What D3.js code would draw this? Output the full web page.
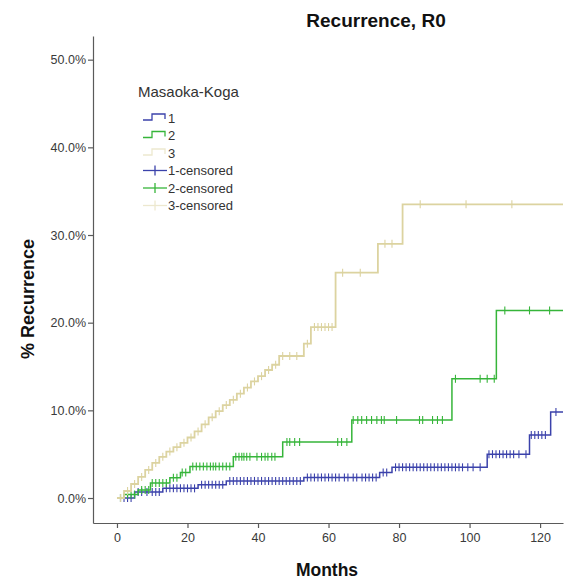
<!DOCTYPE html>
<html>
<head>
<meta charset="utf-8">
<script src="https://cdn.jsdelivr.net/npm/d3@7"></script>
<style>
  html, body { margin: 0; padding: 0; background: #fff; }
  svg { display: block; }
  text { font-family: "Liberation Sans", Arial, sans-serif; }
</style>
</head>
<body>
<svg id="chart" width="568" height="579"></svg>
<script>
// Cumulative recurrence (%) by Masaoka-Koga stage, R0 resection
const groups = ["1", "2", "3"];
const colors = ["#3b42ab", "#36b53a", "#dcd3a0"];

// Stage 1: event times (months) and cumulative recurrence (%)
const g1Times = [0, 5, 13, 23, 31, 53, 74.5, 78, 105, 117, 123];
const g1Pct   = [0, 0.7, 1.1, 1.5, 1.95, 2.35, 2.9, 3.5, 5.0, 7.2, 9.8];
const g1Censor = [1, 2, 3, 4, 6, 7, 8.5, 10, 11, 12, 14, 15, 16, 17, 18, 19, 20, 21, 22,
  24, 25, 26, 27, 28, 29, 30, 32, 33, 34, 35, 36, 37, 38, 39, 40, 41, 42, 43, 44, 45, 46,
  47, 48, 49, 50, 51, 52, 54, 55, 56, 57, 58, 59, 60, 61, 62, 63, 64.5, 65.5, 67, 68,
  69.5, 70.5, 71.5, 72.5, 73.5, 75.5, 76.5, 79, 80, 81, 82, 83, 84, 85, 86, 87, 88, 89,
  90, 91, 92, 93, 94, 95, 96, 97, 98, 99.5, 101, 103, 105.5, 106.5, 107.5, 108.5, 109.5,
  110.5, 111.5, 112.5, 114, 116, 117.5, 118.5, 119.5, 120.5, 121.5, 124.5];

// Stage 2
const g2Times = [0, 2, 6, 9.5, 15, 18, 20.7, 33, 47, 66.6, 95, 107.6];
const g2Pct   = [0, 0.4, 0.9, 1.7, 2.3, 2.9, 3.6, 4.7, 6.4, 8.9, 13.6, 21.4];
const g2Censor = [1, 3, 4, 5, 7, 8, 9, 10, 11, 12, 13, 14, 16, 17, 18.5, 19.5, 21.5, 22.5,
  23.5, 24.5, 25.5, 26.5, 27.3, 28, 29, 30, 31, 32, 33.7, 34.6, 35.4, 36, 36.8, 37.7,
  39.7, 41, 42, 42.8, 43.9, 44.8, 48.2, 49, 50.4, 51.8, 62.6, 63.7, 65.2, 67, 68.3, 69.4,
  70.8, 72.2, 73.7, 75, 75.8, 79.3, 85.8, 86.7, 89.5, 90.9, 92.3, 96, 103, 105, 107,
  110, 117, 122.7];

// Stage 3
const g3Times = [0, 2, 4, 6, 8, 10, 12, 14, 16, 18, 20, 22, 24, 26, 28, 30, 32, 34, 36,
  38, 40, 42, 44, 46, 53, 55, 62, 74, 81];
const g3Pct   = [0, 0.8, 1.6, 2.4, 3.2, 4.0, 4.7, 5.3, 5.8, 6.3, 6.9, 7.6, 8.4, 9.2, 9.9,
  10.6, 11.2, 11.9, 12.6, 13.3, 13.9, 14.6, 15.2, 16.2, 17.6, 19.5, 25.7, 29.0, 33.5];
const g3Censor = [1, 3, 5, 7, 9, 11, 13, 15, 17, 19, 21, 23, 25, 27, 29, 31, 33, 35, 37,
  39, 41, 43, 45, 47, 49, 51, 54, 56, 57, 58, 59, 60, 61, 64, 69, 76, 78, 86, 99, 112];

const yTicks = [0, 10, 20, 30, 40, 50];
const xTicks = [0, 20, 40, 60, 80, 100, 120];
const legendLabels = ["1", "2", "3", "1-censored", "2-censored", "3-censored"];

const series = [
  { times: g1Times, pct: g1Pct, censor: g1Censor },
  { times: g2Times, pct: g2Pct, censor: g2Censor },
  { times: g3Times, pct: g3Pct, censor: g3Censor }
];

const svg = d3.select("#chart");
const tMax = 126.5;
const x = d3.scaleLinear().domain([-6.8, tMax]).range([93, 563]);
const y = d3.scaleLinear().domain([-2.85, 52.7]).range([523, 36]);

// defs: soft edge for the pale stage-3 curve
const defs = svg.append("defs");
defs.append("filter").attr("id", "soft")
  .attr("x", "-5%").attr("y", "-5%").attr("width", "110%").attr("height", "110%")
  .append("feGaussianBlur").attr("stdDeviation", 0.7);

// Axes
const axisColor = "#5a5a5a";
const yAxis = svg.append("g").attr("transform", "translate(93,0)")
  .call(d3.axisLeft(y).tickValues(yTicks).tickSize(5).tickSizeOuter(0)
    .tickFormat(d => d.toFixed(1) + "%"));
const xAxis = svg.append("g").attr("transform", "translate(0,523)")
  .call(d3.axisBottom(x).tickValues(xTicks).tickSize(5).tickSizeOuter(0));
[yAxis, xAxis].forEach(a => {
  a.select(".domain").attr("stroke", axisColor).attr("stroke-width", 1.2);
  a.selectAll(".tick line").attr("stroke", axisColor).attr("stroke-width", 1.2);
  a.selectAll(".tick text").attr("fill", "#3a3a3a")
    .style("font-family", "'Liberation Sans', Arial, sans-serif").style("font-size", "12.5px");
});
yAxis.selectAll(".tick text").attr("x", -7);
xAxis.selectAll(".tick text").attr("y", 10);

// Step curves and censor marks
const line = d3.line().x(d => x(d[0])).y(d => y(d[1])).curve(d3.curveStepAfter);
const bis = d3.bisector(d => d).right;

series.forEach((s, i) => {
  const pts = s.times.map((t, k) => [t, s.pct[k]]);
  pts.push([tMax, s.pct[s.pct.length - 1]]);
  const g = svg.append("g").attr("class", "grp" + (i + 1));
  if (i === 2) g.attr("filter", "url(#soft)");
  g.append("path").datum(pts)
    .attr("fill", "none").attr("stroke", colors[i]).attr("stroke-width", i === 2 ? 1.8 : 1.5)
    .attr("d", line);
  const valueAt = t => s.pct[Math.max(0, bis(s.times, t) - 1)];
  g.selectAll("line.cens").data(s.censor).join("line").attr("class", "cens")
    .attr("x1", d => x(d)).attr("x2", d => x(d))
    .attr("y1", d => y(valueAt(d)) - 4).attr("y2", d => y(valueAt(d)) + 4)
    .attr("stroke", colors[i]).attr("stroke-width", 1.1);
});

// Titles
svg.append("text").attr("x", 376).attr("y", 27).attr("text-anchor", "middle")
  .style("font-weight", "bold").style("font-size", "19px").attr("fill", "#111")
  .text("Recurrence, R0");
svg.append("text").attr("x", 327).attr("y", 576).attr("text-anchor", "middle")
  .style("font-weight", "bold").style("font-size", "17.5px").attr("fill", "#111")
  .text("Months");
svg.append("text").attr("transform", "translate(34,299) rotate(-90)").attr("text-anchor", "middle")
  .style("font-weight", "bold").style("font-size", "18px").attr("fill", "#111")
  .text("% Recurrence");

// Legend
const leg = svg.append("g");
leg.append("text").attr("x", 138).attr("y", 97).style("font-size", "15px").attr("fill", "#333")
  .text("Masaoka-Koga");
legendLabels.forEach((lab, k) => {
  const cy = 118 + k * 17.5;
  const ci = k % 3;
  const row = leg.append("g");
  if (ci === 2) row.attr("opacity", 0.5);
  if (k < 3) {
    row.append("path")
      .attr("d", `M143,${cy + 2}H152V${cy - 4}H165V${cy + 1}`)
      .attr("fill", "none").attr("stroke", colors[ci]).attr("stroke-width", 1.3);
  } else {
    row.append("line").attr("x1", 143).attr("x2", 167).attr("y1", cy).attr("y2", cy)
      .attr("stroke", colors[ci]).attr("stroke-width", 1.3);
    row.append("line").attr("x1", 155).attr("x2", 155).attr("y1", cy - 5).attr("y2", cy + 5)
      .attr("stroke", colors[ci]).attr("stroke-width", 1.3);
  }
  leg.append("text").attr("x", 168).attr("y", cy + 4.5).style("font-size", "13px")
    .attr("fill", "#333").text(lab);
});
</script>
</body>
</html>
